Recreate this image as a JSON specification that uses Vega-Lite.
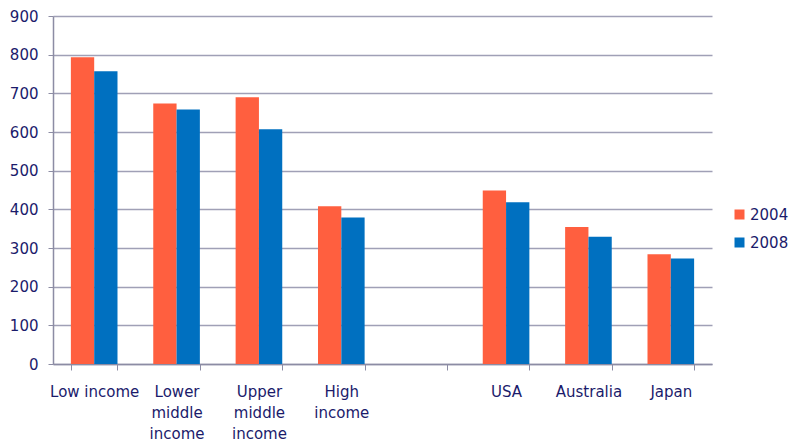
{
  "$schema": "https://vega.github.io/schema/vega-lite/v6.json",
  "width": 659,
  "height": 348,
  "autosize": {"type": "none"},
  "padding": {"left": 53, "top": 16, "right": 77, "bottom": 80},
  "config": {
    "view": {"stroke": null},
    "font": "DejaVu Sans"
  },
  "data": {
    "values": [
      {"group": "Low income", "year": "2004", "value": 793},
      {"group": "Low income", "year": "2008", "value": 757},
      {"group": "Lower middle income", "year": "2004", "value": 674},
      {"group": "Lower middle income", "year": "2008", "value": 658},
      {"group": "Upper middle income", "year": "2004", "value": 690},
      {"group": "Upper middle income", "year": "2008", "value": 607},
      {"group": "High income", "year": "2004", "value": 408},
      {"group": "High income", "year": "2008", "value": 379},
      {"group": "USA", "year": "2004", "value": 449},
      {"group": "USA", "year": "2008", "value": 418},
      {"group": "Australia", "year": "2004", "value": 354},
      {"group": "Australia", "year": "2008", "value": 329},
      {"group": "Japan", "year": "2004", "value": 284},
      {"group": "Japan", "year": "2008", "value": 273}
    ]
  },
  "mark": {"type": "bar"},
  "encoding": {
    "x": {
      "field": "group",
      "type": "nominal",
      "sort": null,
      "scale": {
        "domain": ["Low income", "Lower middle income", "Upper middle income", "High income", " ", "USA", "Australia", "Japan"],
        "paddingInner": 0.434,
        "paddingOuter": 0.217
      },
      "axis": {
        "title": null,
        "labelAngle": 0,
        "labelExpr": "!datum.value ? '' : (datum.value == 'Low income' ? datum.value : split(datum.value, ' '))",
        "labelFontSize": 15,
        "labelColor": "#1B1B6B",
        "labelLineHeight": 21,
        "labelPadding": 14,
        "tickBand": "extent",
        "tickSize": 6,
        "tickColor": "#8C8CA4",
        "domainColor": "#8C8CA4",
        "domainWidth": 1.5,
        "grid": false
      }
    },
    "xOffset": {"field": "year", "type": "nominal"},
    "y": {
      "field": "value",
      "type": "quantitative",
      "scale": {"domain": [0, 900]},
      "axis": {
        "title": null,
        "values": [0, 100, 200, 300, 400, 500, 600, 700, 800, 900],
        "labelFontSize": 15,
        "labelColor": "#1B1B6B",
        "labelPadding": 10,
        "tickSize": 5,
        "tickColor": "#8C8CA4",
        "domainColor": "#8C8CA4",
        "domainWidth": 1.5,
        "gridColor": "#A0A0B6",
        "gridWidth": 1.6
      }
    },
    "color": {
      "field": "year",
      "type": "nominal",
      "scale": {"range": ["#FF5F3F", "#0070C0"]},
      "legend": {
        "title": null,
        "orient": "none",
        "legendX": 679,
        "legendY": 191,
        "padding": 0,
        "symbolType": "square",
        "symbolSize": 100,
        "symbolStrokeWidth": 0,
        "labelFontSize": 15,
        "labelColor": "#1B1B6B",
        "labelOffset": 3,
        "rowPadding": 12
      }
    }
  }
}
